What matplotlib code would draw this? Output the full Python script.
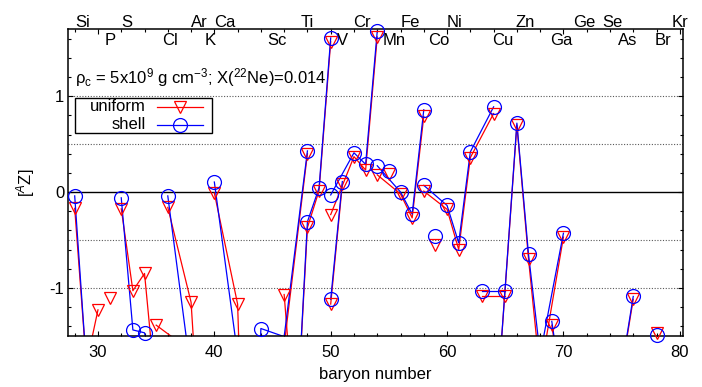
import matplotlib.pyplot as plt
from matplotlib.patches import Rectangle
from matplotlib.ticker import MultipleLocator
import numpy as np

plt.rcParams['font.family'] = ['Liberation Sans', 'DejaVu Sans']
plt.rcParams['mathtext.fontset'] = 'custom'
plt.rcParams['mathtext.rm'] = 'Liberation Sans'
plt.rcParams['mathtext.it'] = 'Liberation Sans:italic'
plt.rcParams['axes.unicode_minus'] = False
plt.rcParams['font.size'] = 12

YMIN, YMAX = -1.5, 1.7

# isotope chains: baryon number, [A Z] for the uniform and the shell model
si_a, si_uniform, si_shell = [28, 29, 30], [-0.17, -1.80, -1.23], [-0.04, -1.80, -2.20]
p_a, p_uniform, p_shell = [31], [-1.11], [-1.90]
s_a, s_uniform, s_shell = [32, 33, 34, 36], [-0.175, -1.03, -0.85, -3.40], [-0.06, -1.44, -1.47, -2.50]
cl_a, cl_uniform, cl_shell = [35, 37], [-1.39, -1.57], [-1.80, -2.00]
ar_a, ar_uniform, ar_shell = [36, 38, 40], [-0.16, -1.15, -5.00], [-0.04, -1.90, -3.00]
ca_a = [40, 42, 43, 44, 46, 48]
ca_uniform = [-0.01, -1.17, -5.00, -2.00, -1.60, 0.40]
ca_shell = [0.105, -1.70, -5.00, -1.425, -1.51, 0.43]
ti_a = [46, 47, 48, 49, 50]
ti_uniform = [-1.07, -2.60, -0.37, 0.015, 1.57]
ti_shell = [-1.60, -2.60, -0.31, 0.044, 1.61]
v_a, v_uniform, v_shell = [50, 51], [-1.17, 0.08], [-1.12, 0.11]
cr_a = [50, 52, 53, 54]
cr_uniform = [-0.235, 0.37, 0.23, 1.62]
cr_shell = [-0.03, 0.41, 0.29, 1.68]
mn_a, mn_uniform, mn_shell = [55], [0.19], [0.22]
fe_a = [54, 56, 57, 58]
fe_uniform = [0.18, -0.02, -0.27, 0.79]
fe_shell = [0.275, 0.0, -0.23, 0.86]
co_a, co_uniform, co_shell = [59], [-0.55], [-0.46]
ni_a = [58, 60, 61, 62, 64]
ni_uniform = [0.01, -0.18, -0.60, 0.36, 0.82]
ni_shell = [0.07, -0.14, -0.53, 0.42, 0.89]
cu_a, cu_uniform, cu_shell = [63, 65], [-1.09, -1.09], [-1.03, -1.03]
zn_a = [64, 66, 67, 68, 70]
zn_uniform = [-2.70, 0.70, -0.70, -1.90, -0.47]
zn_shell = [-2.70, 0.72, -0.65, -1.70, -0.43]
ga_a, ga_uniform, ga_shell = [69, 71], [-1.39, -3.00], [-1.35, -3.00]
ge_a, ge_uniform, ge_shell = [74, 76], [-2.60, -1.12], [-2.60, -1.09]
kr_a, kr_uniform, kr_shell = [78], [-1.47], [-1.49]

chains = [
    (si_a, si_uniform, si_shell), (p_a, p_uniform, p_shell),
    (s_a, s_uniform, s_shell), (cl_a, cl_uniform, cl_shell),
    (ar_a, ar_uniform, ar_shell), (ca_a, ca_uniform, ca_shell),
    (ti_a, ti_uniform, ti_shell), (v_a, v_uniform, v_shell),
    (cr_a, cr_uniform, cr_shell), (mn_a, mn_uniform, mn_shell),
    (fe_a, fe_uniform, fe_shell), (co_a, co_uniform, co_shell),
    (ni_a, ni_uniform, ni_shell), (cu_a, cu_uniform, cu_shell),
    (zn_a, zn_uniform, zn_shell), (ga_a, ga_uniform, ga_shell),
    (ge_a, ge_uniform, ge_shell), (kr_a, kr_uniform, kr_shell),
]

# element names along the top, two staggered rows
upper_names = ['Si', 'S', 'Ar', 'Ca', 'Ti', 'Cr', 'Fe', 'Ni', 'Zn', 'Ge', 'Se', 'Kr']
upper_x = [28.03, 32.04, 38.0, 39.98, 47.43, 51.96, 55.97, 59.93, 65.86, 70.87, 73.31, 79.33]
lower_names = ['P', 'Cl', 'K', 'Sc', 'V', 'Mn', 'Co', 'Cu', 'Ga', 'As', 'Br']
lower_x = [30.55, 35.48, 39.2, 44.51, 50.53, 54.48, 58.4, 63.91, 68.87, 74.66, 77.84]

RED = '#ff0000'
BLUE = '#0000ff'


def plot_chain(ax, a, vals, color, marker, ms):
    a = np.asarray(a, dtype=float)
    vals = np.asarray(vals, dtype=float)
    ax.plot(a, vals, '-', color=color, lw=0.9)
    # points off the range only show as the clipped line
    inside = (vals >= YMIN - 0.005) & (vals <= YMAX + 0.005)
    ax.plot(a[inside], vals[inside], ls='none', marker=marker, ms=ms,
            mfc='none', mec=color, mew=0.9, clip_on=False, zorder=3)


fig = plt.figure(figsize=(7.02, 3.87), dpi=100)
ax = fig.add_axes([0.0973, 0.1326, 0.8752, 0.7917])

for y in (-1.0, -0.5, 0.5, 1.0):
    ax.axhline(y, color='0.35', lw=0.8, ls=(0, (1, 1.5)), zorder=1)
ax.axhline(0, color='black', lw=1.0, zorder=1)

for a, uni, shl in chains:
    plot_chain(ax, a, uni, RED, 'v', 9)
for a, uni, shl in chains:
    plot_chain(ax, a, shl, BLUE, 'o', 10)

ax.set_xlim(27.45, 80.25)
ax.set_ylim(YMIN, YMAX)
ax.xaxis.set_major_locator(MultipleLocator(10))
ax.xaxis.set_minor_locator(MultipleLocator(2))
ax.yaxis.set_major_locator(MultipleLocator(1))
ax.yaxis.set_minor_locator(MultipleLocator(0.2))
ax.tick_params(which='both', direction='in', top=True, right=True, width=0.8)
ax.tick_params(which='major', length=3.5, labelsize=12)
ax.tick_params(axis='x', which='major', pad=7)
ax.tick_params(axis='y', which='major', pad=3)
ax.tick_params(which='minor', length=2.2)
for sp in ax.spines.values():
    sp.set_linewidth(1.1)

ax.set_xlabel('baryon number', fontsize=12, labelpad=5)
ax.set_ylabel('[$^{A}$Z]', fontsize=12, labelpad=9)

for name, x in zip(upper_names, upper_x):
    ax.text(x, 1.724, name, ha='left', va='baseline', fontsize=12, clip_on=False)
for name, x in zip(lower_names, lower_x):
    ax.text(x, 1.536, name, ha='left', va='baseline', fontsize=12)

ax.text(28.03, 1.14, 'ρ$_{\\rm c}$ = 5x10$^{9}$ g cm$^{-3}$; X($^{22}$Ne)=0.014',
        ha='left', va='baseline', fontsize=12)

# key box
ax.add_patch(Rectangle((0.0109, 0.6616), 0.223, 0.1142, transform=ax.transAxes,
                       fc='white', ec='black', lw=1.0, zorder=4))
for label, color, marker, ms, yk in (('uniform', RED, 'v', 9, 0.7464),
                                      ('shell', BLUE, 'o', 10, 0.6877)):
    ax.text(0.1265, yk, label, transform=ax.transAxes, ha='right', va='center',
            fontsize=12, zorder=5)
    ax.plot([0.1444, 0.2192], [yk, yk], color=color, lw=0.9, transform=ax.transAxes, zorder=5)
    ax.plot([0.1818], [yk], ls='none', marker=marker, ms=ms, mfc='none', mec=color,
            mew=0.9, transform=ax.transAxes, zorder=5)

fig.savefig('out.png', dpi=100)
